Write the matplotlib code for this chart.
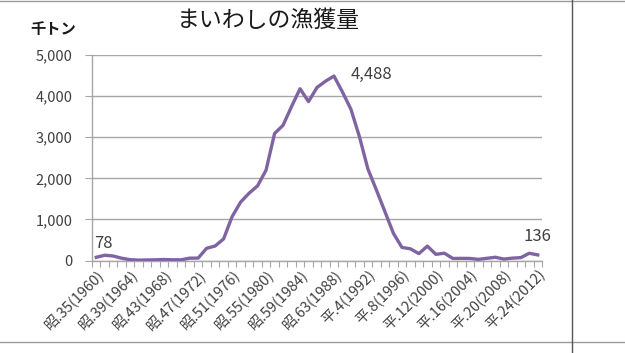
import matplotlib
matplotlib.use("Agg")
import matplotlib.pyplot as plt
from matplotlib.lines import Line2D
import numpy as np

plt.rcParams['font.family'] = ['Noto Sans CJK JP', 'DejaVu Sans']

years = list(range(1960, 2013))
catch = [78, 128, 109, 55, 20, 9, 13, 17, 24, 17,
         17, 57, 58, 297, 352, 526, 1066, 1420, 1637, 1817,
         2198, 3089, 3290, 3745, 4179, 3866, 4210, 4362, 4488, 4099,
         3678, 3010, 2224, 1714, 1189, 661, 319, 284, 167, 351,
         150, 178, 50, 52, 50, 28, 53, 79, 35, 57,
         70, 176, 136]
tick_labels = ["昭.35(1960)", "昭.39(1964)", "昭.43(1968)", "昭.47(1972)",
               "昭.51(1976)", "昭.55(1980)", "昭.59(1984)", "昭.63(1988)",
               "平.4(1992)", "平.8(1996)", "平.12(2000)", "平.16(2004)",
               "平.20(2008)", "平.24(2012)"]
y_ticks = [0, 1000, 2000, 3000, 4000, 5000]
title = "まいわしの漁獲量"
unit = "千トン"

W, H = 625, 353
fig = plt.figure(figsize=(W / 100, H / 100), dpi=100)
fig.patch.set_facecolor('white')

left, right, bottom, top = 92, 542, 260.5, 55
ax = fig.add_axes([left / W, 1 - bottom / H, (right - left) / W, (bottom - top) / H])

x = np.arange(len(years))
line_color = '#8064A2'
ax.plot(x, catch, color=line_color, lw=2.4, solid_joinstyle='round', zorder=3)

ax.set_xlim(-0.5, len(years) - 0.5)
ax.set_ylim(0, 5000)

grid_c = '#a6a6a6'
ax.set_yticks(y_ticks)
ax.set_yticklabels([f"{v:,}" for v in y_ticks])
ax.yaxis.grid(True, color=grid_c, lw=1.0)
ax.set_axisbelow(True)

ax.set_xticks(x[::4])
ax.set_xticklabels(tick_labels, rotation=45, ha='right', va='top',
                   rotation_mode='anchor')
ax.set_xticks(np.arange(-0.5, len(years)), minor=True)
ax.tick_params(axis='x', which='major', length=0, pad=5, labelsize=10.5,
               labelcolor='#404040')
ax.tick_params(axis='x', which='minor', length=4, width=0.8, color=grid_c,
               direction='out')
ax.tick_params(axis='y', which='major', length=5, width=0.8, color=grid_c,
               pad=9, labelsize=10.5, labelcolor='#404040')

for s in ['top', 'right']:
    ax.spines[s].set_visible(False)
for s in ['left', 'bottom']:
    ax.spines[s].set_color(grid_c)
    ax.spines[s].set_linewidth(1.0)

# data labels
ax.annotate(f"{catch[0]:,}", (x[0], catch[0]), xytext=(5, 10),
            textcoords='offset points', ha='center', va='center',
            fontsize=12, color='#404040')
imax = int(np.argmax(catch))
ax.annotate(f"{catch[imax]:,}", (x[imax], catch[imax]), xytext=(12, 1),
            textcoords='offset points', ha='left', va='center',
            fontsize=12, color='#404040')
ax.annotate(f"{catch[-1]:,}", (x[-1], catch[-1]), xytext=(0, 13),
            textcoords='offset points', ha='center', va='center',
            fontsize=12, color='#404040')

fig.text(268 / W, 1 - 20 / H, title, ha='center', va='center', fontsize=16.5,
         color='#1a1a1a')
fig.text(53 / W, 1 - 29 / H, unit, ha='center', va='center', fontsize=11,
         color='#1a1a1a', fontweight='bold')

# slide frame lines
fig.add_artist(Line2D([0, 1], [1 - 0.8 / H, 1 - 0.8 / H], transform=fig.transFigure,
                      color='#9a9a9a', lw=1.0))
fig.add_artist(Line2D([0, 1], [1 - 342 / H, 1 - 342 / H], transform=fig.transFigure,
                      color='#9a9a9a', lw=1.0))
fig.add_artist(Line2D([572 / W, 572 / W], [0, 1], transform=fig.transFigure,
                      color='#555555', lw=1.0))

fig.savefig('out.png', dpi=100, facecolor='white')
